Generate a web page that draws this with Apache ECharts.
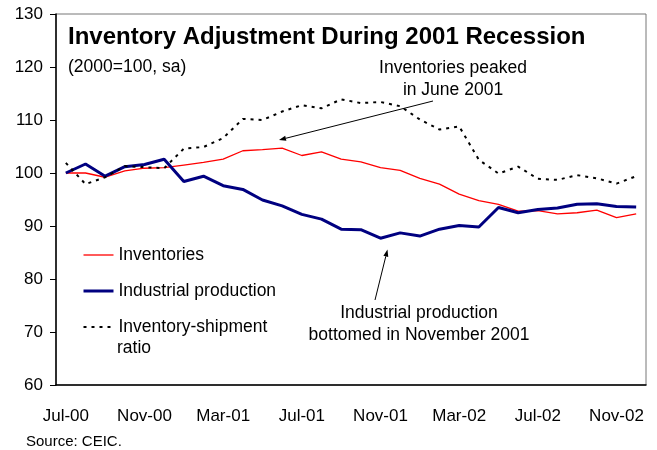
<!DOCTYPE html>
<html>
<head>
<meta charset="utf-8">
<script src="https://cdn.jsdelivr.net/npm/echarts@6/dist/echarts.min.js"></script>
<style>
  html, body { margin: 0; padding: 0; background: #fff; }
  #chart { width: 657px; height: 450px; }
</style>
</head>
<body>
<div id="chart"></div>
<script>
// months Jul-00 .. Dec-02
const months = [
  'Jul-00', 'Aug-00', 'Sep-00', 'Oct-00', 'Nov-00', 'Dec-00',
  'Jan-01', 'Feb-01', 'Mar-01', 'Apr-01', 'May-01', 'Jun-01',
  'Jul-01', 'Aug-01', 'Sep-01', 'Oct-01', 'Nov-01', 'Dec-01',
  'Jan-02', 'Feb-02', 'Mar-02', 'Apr-02', 'May-02', 'Jun-02',
  'Jul-02', 'Aug-02', 'Sep-02', 'Oct-02', 'Nov-02', 'Dec-02'
];
const inventories = [
  100.0, 100.0, 99.2, 100.4, 100.9, 101.0, 101.5, 102.0, 102.6, 104.2,
  104.4, 104.7, 103.3, 104.0, 102.6, 102.1, 101.0, 100.5, 99.0, 97.9,
  96.0, 94.8, 94.1, 92.8, 92.9, 92.3, 92.5, 93.0, 91.6, 92.3
];
const industrialProduction = [
  100.0, 101.7, 99.4, 101.2, 101.6, 102.6, 98.4, 99.4, 97.6, 96.9,
  94.9, 93.8, 92.2, 91.3, 89.4, 89.3, 87.7, 88.7, 88.1, 89.4,
  90.1, 89.8, 93.5, 92.5, 93.1, 93.4, 94.1, 94.2, 93.7, 93.6
];
const invShipRatio = [
  101.9, 97.9, 99.2, 101.3, 101.1, 100.9, 104.6, 104.9, 106.6, 110.2,
  110.0, 111.6, 112.8, 112.2, 113.9, 113.2, 113.4, 112.6, 110.1, 108.2,
  108.8, 102.5, 99.9, 101.2, 98.9, 98.7, 99.6, 99.0, 98.0, 99.4
];

const FONT = '"Liberation Sans", Arial, sans-serif';

// arrow = line + small head at (x2, y2)
function arrow(x1, y1, x2, y2) {
  let a = Math.atan2(y2 - y1, x2 - x1);
  let len = 7, w = 2.5;
  let bx = x2 - len * Math.cos(a), by = y2 - len * Math.sin(a);
  let px = -Math.sin(a) * w, py = Math.cos(a) * w;
  return [
    { type: 'line', shape: { x1: x1, y1: y1, x2: bx, y2: by }, style: { stroke: '#000', lineWidth: 1 } },
    { type: 'polygon', shape: { points: [[x2, y2], [bx + px, by + py], [bx - px, by - py]] }, style: { fill: '#000' } }
  ];
}

function label(text, x, y, size, weight, align) {
  return {
    type: 'text', x: x, y: y,
    style: {
      text: text, fill: '#000', font: (weight || 'normal') + ' ' + size + 'px ' + FONT,
      textAlign: align || 'left', textVerticalAlign: 'middle'
    }
  };
}

let chart = echarts.init(document.getElementById('chart'));
chart.setOption({
  animation: false,
  backgroundColor: '#fff',
  textStyle: { fontFamily: FONT },
  grid: {
    left: 56, right: 11, top: 14, bottom: 65,
    show: true, borderColor: '#777', borderWidth: 1
  },
  legend: {
    orient: 'vertical',
    left: 82, top: 245, padding: 0,
    itemWidth: 30, itemHeight: 14, itemGap: 16, textGap: 5,
    itemStyle: { opacity: 0 },
    textStyle: { fontSize: 17.5, lineHeight: 20, color: '#000', fontFamily: FONT },
    // second line "ratio" of the last entry is drawn as graphic text below
    formatter: function (name) { return name.replace(' ratio', ''); },
    data: [
      { name: 'Inventories', lineStyle: { width: 1.3 } },
      { name: 'Industrial production', lineStyle: { width: 3 } },
      { name: 'Inventory-shipment ratio', lineStyle: { width: 2 } }
    ]
  },
  xAxis: {
    type: 'category',
    data: months,
    boundaryGap: true,
    axisLine: { lineStyle: { color: '#000', width: 1.5 } },
    axisTick: { interval: 3, length: 5, lineStyle: { color: '#000' } },
    axisLabel: { interval: 3, color: '#000', fontSize: 17, margin: 23 },
    splitLine: { show: false }
  },
  yAxis: {
    type: 'value',
    min: 60, max: 130, interval: 10,
    axisLine: { show: true, lineStyle: { color: '#000', width: 1.5 } },
    axisTick: { show: true, length: 6, lineStyle: { color: '#000' } },
    axisLabel: { color: '#000', fontSize: 17, margin: 13 },
    splitLine: { show: false }
  },
  series: [
    {
      name: 'Inventories', type: 'line', data: inventories, symbol: 'none',
      lineStyle: { color: '#ff0000', width: 1.3 }, itemStyle: { color: '#ff0000' }
    },
    {
      name: 'Industrial production', type: 'line', data: industrialProduction, symbol: 'none',
      lineStyle: { color: '#000080', width: 3 }, itemStyle: { color: '#000080' }
    },
    {
      name: 'Inventory-shipment ratio', type: 'line', data: invShipRatio, symbol: 'none',
      lineStyle: { color: '#000', width: 2, type: [3, 5] }, itemStyle: { color: '#000' }
    }
  ],
  graphic: [
    label('Inventory Adjustment During 2001 Recession', 68, 37, 24, 'bold'),
    label('(2000=100, sa)', 68, 67, 17.5),
    label('Inventories peaked', 453, 68, 17.5, 'normal', 'center'),
    label('in June 2001', 453, 90, 17.5, 'normal', 'center'),
    label('Industrial production', 419, 313, 17.5, 'normal', 'center'),
    label('bottomed in November 2001', 419, 335, 17.5, 'normal', 'center'),
    label('ratio', 117, 348, 17.5),
    label('Source: CEIC.', 26, 442, 15)
  ].concat(arrow(433, 101, 279, 140), arrow(375, 300, 387.5, 249.5))
});
</script>
</body>
</html>
